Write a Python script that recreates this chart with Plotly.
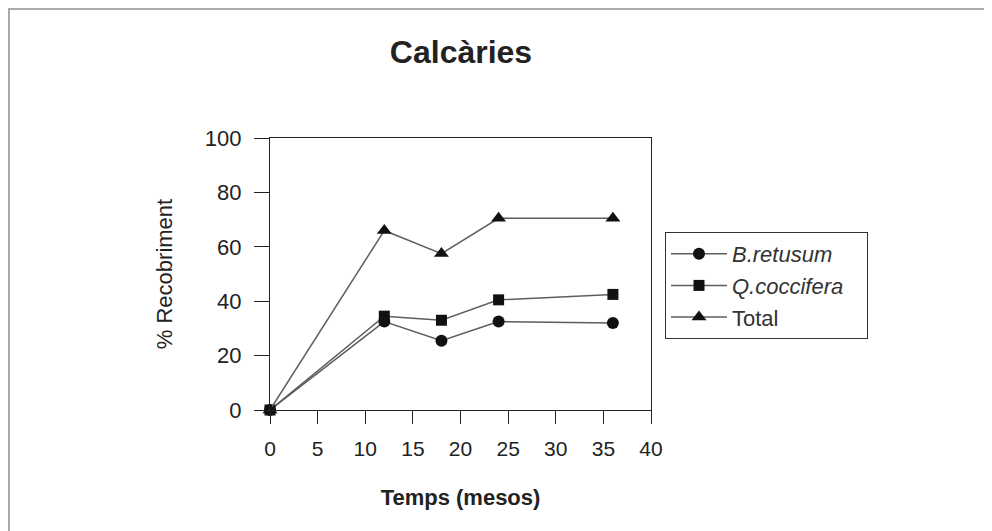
import plotly.graph_objects as go

months = [0, 12, 18, 24, 36]
b_retusum = [0, 32.5, 25.5, 32.5, 32]
q_coccifera = [0, 34.5, 33, 40.5, 42.5]
total = [0, 66, 57.5, 70.5, 70.5]

x_ticks = [0, 5, 10, 15, 20, 25, 30, 35, 40]
y_ticks = [0, 20, 40, 60, 80, 100]

FONT = "Liberation Sans, Arial, sans-serif"
OFF = 8  # page body margin
W, H = 992 - OFF, 531 - OFF

# plot area in screen coordinates
PX0, PX1, PY0, PY1 = 270, 651, 138, 410


def px(x):
    return (x - PX0) / (PX1 - PX0)


def py(y):
    return (PY1 - y) / (PY1 - PY0)


fig = go.Figure()
series = [
    ("<i>B.retusum</i>", b_retusum, "circle", 12),
    ("<i>Q.coccifera</i>\u00a0\u00a0\u00a0", q_coccifera, "square", 11),
    ("Total", total, "triangle-up", 13),
]
for name, vals, sym, sz in series:
    fig.add_trace(go.Scatter(
        x=months, y=vals, name=name, mode="lines+markers",
        line=dict(color="#5e5e5e", width=1.5),
        marker=dict(symbol=sym, size=sz, color="#111111"),
        cliponaxis=False,
    ))

fig.update_layout(
    width=W, height=H,
    margin=dict(l=PX0 - OFF, r=W - (PX1 - OFF), t=PY0 - OFF, b=H - (PY1 - OFF)),
    paper_bgcolor="white", plot_bgcolor="white",
    font=dict(family=FONT, color="#222222"),
    showlegend=True,
    title=dict(text="<b>Calcàries</b>", x=(461 - OFF) / W, xanchor="center",
               y=1 - (52 - OFF) / H, yanchor="middle",
               font=dict(size=32, family=FONT, color="#222222")),
    legend=dict(
        x=px(665), y=py(232), xanchor="left", yanchor="top",
        bordercolor="#333333", borderwidth=1, bgcolor="white",
        font=dict(size=22, family=FONT, color="#333333"),
        itemwidth=56, tracegroupgap=0,
    ),
    xaxis=dict(
        range=[0, 40], tickvals=x_ticks, ticktext=[str(v) for v in x_ticks],
        showline=True, linecolor="#222222", linewidth=1.2, mirror=True,
        ticks="outside", ticklen=13, tickcolor="#222222", tickwidth=1.2,
        showgrid=False, zeroline=False, ticklabelstandoff=7,
        tickfont=dict(size=21, family=FONT, color="#222222"),
        title=dict(text="<b>Temps (mesos)</b>", standoff=30,
                   font=dict(size=22, family=FONT, color="#222222")),
    ),
    yaxis=dict(
        range=[0, 100], tickvals=y_ticks, ticktext=[str(v) for v in y_ticks],
        showline=True, linecolor="#222222", linewidth=1.2, mirror=True,
        ticks="outside", ticklen=15, tickcolor="#222222", tickwidth=1.2,
        showgrid=False, zeroline=False, ticklabelstandoff=8,
        tickfont=dict(size=22, family=FONT, color="#222222"),
        title=dict(text="% Recobriment", standoff=26,
                   font=dict(size=22, family=FONT, color="#222222")),
    ),
    shapes=[dict(
        type="rect", xref="paper", yref="paper",
        x0=px(9), x1=px(988), y0=py(560), y1=py(9),
        line=dict(color="#aaaaaa", width=2), layer="below",
    )],
)

fig.write_html("out.html")
